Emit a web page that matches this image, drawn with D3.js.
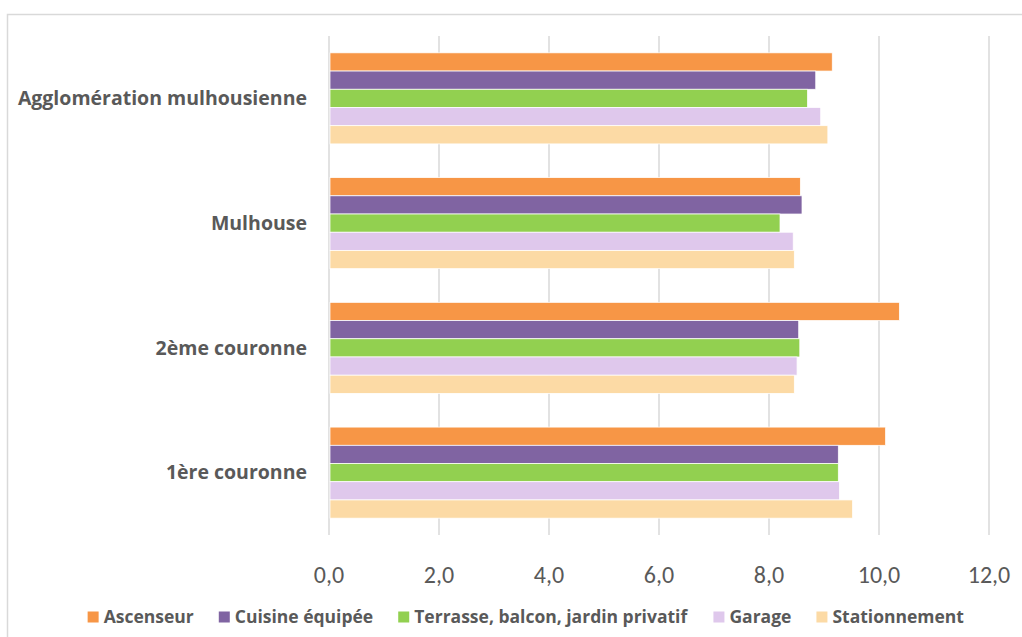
<!DOCTYPE html>
<html>
<head>
<meta charset="utf-8">
<script src="https://cdn.jsdelivr.net/npm/d3@7"></script>
<style>
  body { margin: 0; background: #fff; }
  svg text { font-family: Carlito, Calibri, Lato, "Open Sans", sans-serif; fill: #595959; }
  svg text.wide { font-family: "Open Sans", Lato, sans-serif; }
</style>
</head>
<body>
<div id="chart"></div>
<script>
// categories, top to bottom
var categories = ["Agglomération mulhousienne", "Mulhouse", "2ème couronne", "1ère couronne"];
var seriesNames = ["Ascenseur", "Cuisine équipée", "Terrasse, balcon, jardin privatif", "Garage", "Stationnement"];
var seriesColors = ["#f79646", "#8064a2", "#92d050", "#dfc8ec", "#fcdaa5"];
// values per series, in category order
var ascenseur     = [9.15, 8.57, 10.37, 10.12];
var cuisine       = [8.85, 8.60, 8.54, 9.26];
var terrasse      = [8.70, 8.20, 8.56, 9.26];
var garage        = [8.94, 8.44, 8.51, 9.28];
var stationnement = [9.07, 8.46, 8.46, 9.52];
var tickValues = [0, 2, 4, 6, 8, 10, 12];

var seriesValues = [ascenseur, cuisine, terrasse, garage, stationnement];

var W = 1022, H = 637;
var margin = {top: 36, right: 33, bottom: 102, left: 329},
    width = W - margin.left - margin.right,
    height = H - margin.top - margin.bottom;

var svg = d3.select("#chart").append("svg")
  .attr("width", W).attr("height", H);

// chart frame
svg.append("rect")
  .attr("x", 7.5).attr("y", 14.5)
  .attr("width", W + 10).attr("height", H + 10)
  .attr("fill", "none").attr("stroke", "#d9d9d9").attr("stroke-width", 1.5);

var g = svg.append("g").attr("transform", "translate(" + margin.left + "," + margin.top + ")");

var x = d3.scaleLinear().domain([0, 12]).range([0, width]);
var y0 = d3.scaleBand().domain(categories).range([0, height]).paddingInner(0.27).paddingOuter(0.135);
var y1 = d3.scaleBand().domain(seriesNames).range([0, y0.bandwidth()]);

// gridlines
g.selectAll(".grid").data(tickValues).enter().append("line")
  .attr("x1", function(d){ return x(d); }).attr("x2", function(d){ return x(d); })
  .attr("y1", 0).attr("y2", height)
  .attr("stroke", "#d9d9d9").attr("stroke-width", 1.5);

// bars
var rows = categories.map(function(c, i){
  return seriesNames.map(function(s, j){ return {cat: c, key: s, value: seriesValues[j][i], color: seriesColors[j]}; });
});
g.selectAll(".cat").data(rows).enter().append("g")
  .attr("transform", function(d){ return "translate(0," + y0(d[0].cat) + ")"; })
  .selectAll("rect").data(function(d){ return d; }).enter().append("rect")
    .attr("x", x(0) + 1)
    .attr("y", function(d){ return y1(d.key); })
    .attr("width", function(d){ return x(d.value) - x(0) - 1; })
    .attr("height", y1.bandwidth())
    .attr("fill", function(d){ return d.color; })
    .attr("stroke", "#fff").attr("stroke-width", 0.75);

// category labels
g.selectAll(".catlabel").data(categories).enter().append("text")
  .attr("class", "wide")
  .attr("x", -22)
  .attr("y", function(d){ return y0(d) + y0.bandwidth() / 2; })
  .attr("dy", "0.35em")
  .attr("text-anchor", "end")
  .style("font-size", "19.5px").style("font-weight", "bold")
  .text(function(d){ return d; });

// x tick labels
var fmt = function(d){ return d3.format(".1f")(d).replace(".", ","); };
g.selectAll(".tick").data(tickValues).enter().append("text")
  .attr("x", function(d){ return x(d); })
  .attr("y", height + 40)
  .attr("dy", "0.35em")
  .attr("text-anchor", "middle")
  .style("font-size", "24px")
  .text(fmt);

// legend
var legend = svg.append("g");
var items = legend.selectAll("g").data(seriesNames).enter().append("g");
items.append("rect").attr("width", 11).attr("height", 11).attr("y", -5.5)
  .attr("fill", function(d, i){ return seriesColors[i]; });
items.append("text").attr("class", "wide").attr("x", 16).attr("dy", "0.35em")
  .style("font-size", "17.5px").style("font-weight", "bold")
  .text(function(d){ return d; });
var pos = 0, gap = 25;
items.each(function(){
  var w = this.getBBox().width;
  d3.select(this).attr("transform", "translate(" + pos + ",0)");
  pos += w + gap;
});
var total = pos - gap;
legend.attr("transform", "translate(" + (526 - total / 2) + ",617)");
</script>
</body>
</html>
